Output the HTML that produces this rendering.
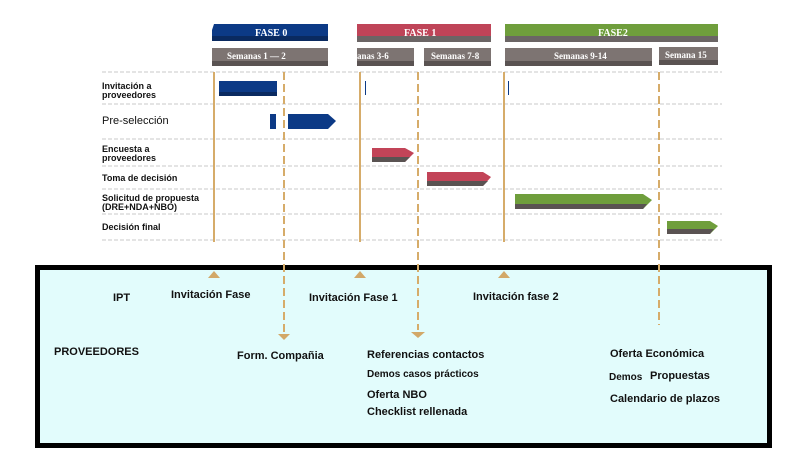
<!DOCTYPE html>
<html><head><meta charset="utf-8"><style>
body{margin:0;background:#fff;width:792px;height:473px;overflow:hidden}
svg{display:block}
</style></head><body>
<svg width="792" height="473" viewBox="0 0 792 473" style="font-family:'Liberation Sans',sans-serif">
<!-- phase bars -->
<polygon points="214,24 328,24 328,36 322,41 212,41 212,30" fill="#0c3a86"/>
<rect x="212" y="36" width="116" height="5" fill="#0a2a60"/>
<text x="255" y="36" font-size="10" font-weight="bold" fill="#fff" style="font-family:'Liberation Serif',serif">FASE 0</text>
<rect x="357" y="24" width="134" height="18" fill="#bf4458"/>
<rect x="357" y="36" width="134" height="6" fill="#6b6565"/>
<text x="404" y="36" font-size="10" font-weight="bold" fill="#fff" style="font-family:'Liberation Serif',serif">FASE 1</text>
<rect x="505" y="24" width="213" height="18" fill="#6f9e3c"/>
<rect x="505" y="36" width="213" height="6" fill="#6b6565"/>
<text x="598" y="36" font-size="10" font-weight="bold" fill="#fff" style="font-family:'Liberation Serif',serif">FASE2</text>
<!-- weeks -->
<g font-size="9" font-weight="bold" fill="#fff" style="font-family:'Liberation Serif',serif">
<rect x="212" y="48" width="116" height="18" fill="#7d7472"/><rect x="212" y="61" width="116" height="5" fill="#5a5352"/>
<text x="227" y="59">Semanas 1 —  2</text>
<rect x="357" y="48" width="57" height="18" fill="#7d7472"/><rect x="357" y="61" width="57" height="5" fill="#5a5352"/>
<text x="357" y="59">anas 3-6</text>
<rect x="424" y="48" width="67" height="18" fill="#7d7472"/><rect x="424" y="61" width="67" height="5" fill="#5a5352"/>
<text x="431" y="59">Semanas 7-8</text>
<rect x="505" y="48" width="147" height="18" fill="#7d7472"/><rect x="505" y="61" width="147" height="5" fill="#5a5352"/>
<text x="554" y="59">Semanas 9-14</text>
<rect x="659" y="47" width="59" height="18" fill="#7d7472"/><rect x="659" y="60" width="59" height="5" fill="#5a5352"/>
<text x="665" y="58">Semana 15</text>
</g>
<!-- horizontal dashed -->
<g stroke="#c8c8c8" stroke-dasharray="4,2" stroke-width="1">
<line x1="102" y1="72" x2="722" y2="72"/><line x1="102" y1="104" x2="722" y2="104"/>
<line x1="102" y1="139" x2="722" y2="139"/><line x1="102" y1="166" x2="722" y2="166"/>
<line x1="102" y1="189" x2="722" y2="189"/><line x1="102" y1="214" x2="722" y2="214"/>
<line x1="102" y1="240" x2="722" y2="240"/>
</g>
<!-- labels -->
<g font-size="9" font-weight="bold" fill="#111">
<text x="102" y="89">Invitación a</text><text x="102" y="98">proveedores</text>
<text x="102" y="124" font-size="11" font-weight="normal">Pre-selección</text>
<text x="102" y="152">Encuesta a</text><text x="102" y="161">proveedores</text>
<text x="102" y="181">Toma de decisión</text>
<text x="102" y="201">Solicitud de propuesta</text><text x="102" y="210">(DRE+NDA+NBO)</text>
<text x="102" y="230">Decisión final</text>
</g>
<!-- gantt bars -->
<rect x="219" y="81" width="58" height="15" fill="#0c3a86"/><rect x="219" y="92" width="58" height="4" fill="#0a2a60"/>
<rect x="270" y="114" width="6" height="15" fill="#0c3a86"/>
<polygon points="288,114 328,114 336,121 328,129 288,129" fill="#0c3a86"/>
<polygon points="372,148 405,148 414,153 405,162 372,162" fill="#c24458"/><polygon points="372,157 410,157 405,162 372,162" fill="#5a5352"/>
<polygon points="427,172 483,172 491,177 483,186 427,186" fill="#c24458"/><polygon points="427,181 488,181 483,186 427,186" fill="#5a5352"/>
<polygon points="515,194 643,194 652,200 643,209 515,209" fill="#6f9e3c"/><polygon points="515,204 647,204 643,209 515,209" fill="#5a5352"/>
<polygon points="667,221 710,221 718,226 710,234 667,234" fill="#6f9e3c"/><polygon points="667,229 714,229 710,234 667,234" fill="#5a5352"/>
<rect x="365" y="81" width="1" height="14" fill="#0c3a86"/><rect x="508" y="81" width="1" height="14" fill="#0c3a86"/>
<!-- box -->
<rect x="37.5" y="267.5" width="732" height="178" fill="#e2fcfc" stroke="#000" stroke-width="5"/>
<!-- vertical lines -->
<g stroke="#d6ac6a" stroke-width="2">
<line x1="214" y1="72" x2="214" y2="242"/>
<line x1="360" y1="72" x2="360" y2="242"/>
<line x1="504" y1="72" x2="504" y2="242"/>
<line x1="284" y1="72" x2="284" y2="332" stroke-dasharray="8,4"/>
<line x1="418" y1="72" x2="418" y2="330" stroke-dasharray="8,4"/>
<line x1="659" y1="72" x2="659" y2="325" stroke-dasharray="8,4"/>
</g>
<g fill="#d2a868">
<polygon points="208,278 220,278 214,271"/>
<polygon points="354,278 366,278 360,271"/>
<polygon points="498,278 510,278 504,271"/>
<polygon points="278,334 290,334 284,340"/>
<polygon points="411,332 425,332 418,338"/>
</g>
<!-- box text -->
<g font-size="11" font-weight="bold" fill="#111">
<text x="113" y="301">IPT</text>
<text x="171" y="298">Invitación Fase</text>
<text x="309" y="301">Invitación Fase 1</text>
<text x="473" y="300">Invitación fase 2</text>
<text x="54" y="355">PROVEEDORES</text>
<text x="237" y="359">Form. Compañia</text>
<text x="367" y="358">Referencias contactos</text>
<text x="367" y="377" font-size="10">Demos casos   prácticos</text>
<text x="367" y="398">Oferta NBO</text>
<text x="367" y="415">Checklist rellenada</text>
<text x="610" y="357">Oferta Económica</text>
<text x="609" y="380" font-size="10">Demos</text><text x="650" y="379">Propuestas</text>
<text x="610" y="402">Calendario de plazos</text>
</g>
</svg>
</body></html>
